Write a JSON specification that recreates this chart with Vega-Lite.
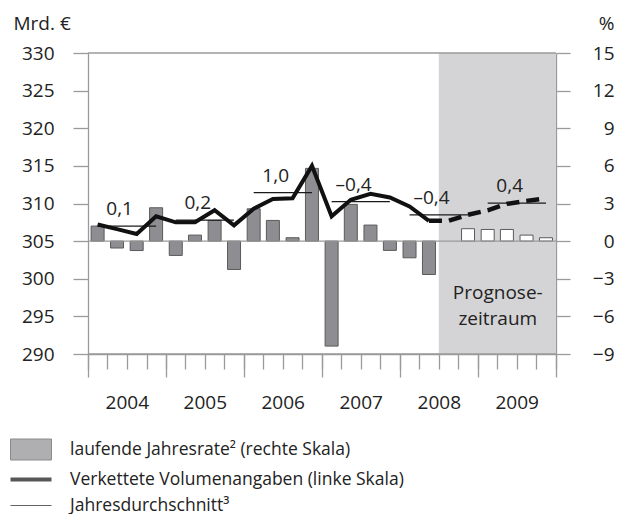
{
  "$schema": "https://vega.github.io/schema/vega-lite/v6.json",
  "width": 468,
  "height": 301,
  "autosize": "none",
  "padding": {"left": 88, "top": 53, "right": 61, "bottom": 160},
  "config": {
    "font": "Open Sans",
    "view": {"stroke": null},
    "axis": {"labelFont": "Open Sans", "titleFont": "Open Sans", "labelColor": "#222", "titleColor": "#222", "domainColor": "#9a9a9a", "tickColor": "#9a9a9a", "domainWidth": 1.3, "tickWidth": 1.3}
  },
  "datasets": {
    "quarters": [
      {"date": "2004-02-15", "value": 307.2, "rate": 1.2, "forecast": false},
      {"date": "2004-05-16", "value": 306.6, "rate": -0.55, "forecast": false},
      {"date": "2004-08-16", "value": 305.95, "rate": -0.75, "forecast": false},
      {"date": "2004-11-15", "value": 308.3, "rate": 2.66, "forecast": false},
      {"date": "2005-02-15", "value": 307.5, "rate": -1.14, "forecast": false},
      {"date": "2005-05-16", "value": 307.5, "rate": 0.48, "forecast": false},
      {"date": "2005-08-16", "value": 309.1, "rate": 1.65, "forecast": false},
      {"date": "2005-11-15", "value": 307.1, "rate": -2.26, "forecast": false},
      {"date": "2006-02-15", "value": 309.3, "rate": 2.58, "forecast": false},
      {"date": "2006-05-16", "value": 310.6, "rate": 1.65, "forecast": false},
      {"date": "2006-08-16", "value": 310.7, "rate": 0.27, "forecast": false},
      {"date": "2006-11-15", "value": 315.0, "rate": 5.8, "forecast": false},
      {"date": "2007-02-15", "value": 308.3, "rate": -8.37, "forecast": false},
      {"date": "2007-05-16", "value": 310.5, "rate": 2.93, "forecast": false},
      {"date": "2007-08-16", "value": 311.3, "rate": 1.28, "forecast": false},
      {"date": "2007-11-15", "value": 310.8, "rate": -0.74, "forecast": false},
      {"date": "2008-02-15", "value": 309.6, "rate": -1.33, "forecast": false},
      {"date": "2008-05-16", "value": 307.7, "rate": -2.66, "forecast": false},
      {"date": "2008-08-16", "value": 307.7, "rate": null, "forecast": true},
      {"date": "2008-11-15", "value": 308.5, "rate": 0.99, "forecast": true},
      {"date": "2009-02-15", "value": 309.1, "rate": 0.93, "forecast": true},
      {"date": "2009-05-16", "value": 309.95, "rate": 0.93, "forecast": true},
      {"date": "2009-08-16", "value": 310.35, "rate": 0.48, "forecast": true},
      {"date": "2009-11-15", "value": 310.7, "rate": 0.27, "forecast": true}
    ],
    "averages": [
      {"from": "2004-02-15", "to": "2004-11-15", "avg": 307.0, "label": "0,1"},
      {"from": "2005-02-15", "to": "2005-11-15", "avg": 307.8, "label": "0,2"},
      {"from": "2006-02-15", "to": "2006-11-15", "avg": 311.45, "label": "1,0"},
      {"from": "2007-02-15", "to": "2007-11-15", "avg": 310.25, "label": "–0,4"},
      {"from": "2008-02-15", "to": "2008-11-15", "avg": 308.5, "label": "–0,4"},
      {"from": "2009-02-15", "to": "2009-11-15", "avg": 310.05, "label": "0,4"}
    ],
    "period": [
      {"start": "2008-07-01", "end": "2010-01-01", "label": "Prognose-\nzeitraum"}
    ],
    "legend": [
      {"series": "laufende Jahresrate² (rechte Skala)"},
      {"series": "Verkettete Volumenangaben (linke Skala)"},
      {"series": "Jahresdurchschnitt³"}
    ]
  },
  "layer": [
    {
      "layer": [
        {
          "data": {"name": "period"},
          "mark": {"type": "rect", "color": "#d4d4d6"},
          "encoding": {
            "x": {"field": "start", "type": "temporal", "scale": {"type": "utc", "nice": false, "padding": 0, "domain": [{"year": 2004, "month": 1, "date": 1, "utc": true}, {"year": 2010, "month": 1, "date": 1, "utc": true}]}},
            "x2": {"field": "end"}
          }
        },
        {
          "data": {"name": "period"},
          "mark": {"type": "text", "dx": 59, "dy": 89, "fontSize": 19, "lineHeight": 26, "lineBreak": "\n", "align": "center", "baseline": "middle", "color": "#222"},
          "encoding": {
            "x": {"field": "start", "type": "temporal", "scale": {"type": "utc", "nice": false, "padding": 0, "domain": [{"year": 2004, "month": 1, "date": 1, "utc": true}, {"year": 2010, "month": 1, "date": 1, "utc": true}]}},
            "text": {"field": "label"}
          }
        },
        {
          "data": {"name": "quarters"},
          "mark": {"type": "bar", "width": 13, "stroke": "#5a5a5a", "strokeWidth": 1},
          "encoding": {
            "x": {"field": "date", "type": "temporal", "scale": {"type": "utc", "nice": false, "padding": 0, "domain": [{"year": 2004, "month": 1, "date": 1, "utc": true}, {"year": 2010, "month": 1, "date": 1, "utc": true}]},
              "axis": {"orient": "bottom", "title": null, "tickCount": {"interval": "month", "step": 3}, "labelExpr": "utcmonth(datum.value) == 6 ? utcFormat(datum.value, '%Y') : ''", "tickSize": 15, "labelPadding": 24, "labelFontSize": 19, "labelOverlap": false, "labelFlush": false, "labelBound": false, "grid": false}},
            "y": {"field": "rate", "type": "quantitative", "scale": {"domain": [-9, 15], "nice": false, "zero": false},
              "axis": {"orient": "right", "values": [-9, -6, -3, 0, 3, 6, 9, 12, 15], "tickSize": 14, "labelAlign": "right", "labelBaseline": "middle", "labelPadding": 44, "labelFontSize": 19, "labelOverlap": false, "grid": false, "title": "%", "titleAngle": 0, "titleX": 58, "titleY": -30, "titleAlign": "right", "titleBaseline": "middle", "titleFontSize": 19, "titleFontWeight": "normal"}},
            "color": {"condition": {"test": "datum.forecast", "value": "#ffffff"}, "value": "#8e8e92"}
          }
        }
      ]
    },
    {
      "layer": [
        {
          "data": {"name": "averages"},
          "mark": {"type": "rule", "color": "#1a1a1a", "strokeWidth": 1.2},
          "encoding": {
            "x": {"field": "from", "type": "temporal", "scale": {"type": "utc", "nice": false, "padding": 0, "domain": [{"year": 2004, "month": 1, "date": 1, "utc": true}, {"year": 2010, "month": 1, "date": 1, "utc": true}]},
              "axis": {"orient": "bottom", "title": null, "tickCount": {"interval": "year", "step": 1}, "tickSize": 23, "labels": false, "domain": false, "grid": false}},
            "x2": {"field": "to"},
            "y": {"field": "avg", "type": "quantitative", "scale": {"domain": [290, 330], "nice": false, "zero": false},
              "axis": {"orient": "left", "values": [290, 295, 300, 305, 310, 315, 320, 325, 330], "tickCount": 20, "tickSize": 15, "labelPadding": 19, "labelFontSize": 19, "labelBaseline": "middle", "labelOverlap": false, "title": "Mrd. €", "titleAngle": 0, "titleX": -75, "titleY": -30, "titleAlign": "left", "titleBaseline": "middle", "titleFontSize": 19, "titleFontWeight": "normal", "grid": false}}
          }
        },
        {
          "data": {"values": [{}]},
          "mark": {"type": "rule", "color": "#9a9a9a", "strokeWidth": 1.3},
          "encoding": {
            "y": {"datum": 305, "type": "quantitative", "scale": {"domain": [290, 330], "nice": false, "zero": false},
              "axis": {"orient": "left", "values": [290, 295, 300, 305, 310, 315, 320, 325, 330], "tickCount": 20, "tickSize": 15, "labelPadding": 19, "labelFontSize": 19, "labelBaseline": "middle", "labelOverlap": false, "title": "Mrd. €", "titleAngle": 0, "titleX": -75, "titleY": -30, "titleAlign": "left", "titleBaseline": "middle", "titleFontSize": 19, "titleFontWeight": "normal", "grid": false}}
          }
        },
        {
          "data": {"values": [{}]},
          "mark": {"type": "rule", "color": "#9a9a9a", "strokeWidth": 1.3},
          "encoding": {
            "y": {"datum": 330, "type": "quantitative", "scale": {"domain": [290, 330], "nice": false, "zero": false},
              "axis": {"orient": "left", "values": [290, 295, 300, 305, 310, 315, 320, 325, 330], "tickCount": 20, "tickSize": 15, "labelPadding": 19, "labelFontSize": 19, "labelBaseline": "middle", "labelOverlap": false, "title": "Mrd. €", "titleAngle": 0, "titleX": -75, "titleY": -30, "titleAlign": "left", "titleBaseline": "middle", "titleFontSize": 19, "titleFontWeight": "normal", "grid": false}}
          }
        },
        {
          "data": {"values": [{}]},
          "mark": {"type": "rule", "color": "#9a9a9a", "strokeWidth": 1.3},
          "encoding": {
            "y": {"datum": 290, "type": "quantitative", "scale": {"domain": [290, 330], "nice": false, "zero": false},
              "axis": {"orient": "left", "values": [290, 295, 300, 305, 310, 315, 320, 325, 330], "tickCount": 20, "tickSize": 15, "labelPadding": 19, "labelFontSize": 19, "labelBaseline": "middle", "labelOverlap": false, "title": "Mrd. €", "titleAngle": 0, "titleX": -75, "titleY": -30, "titleAlign": "left", "titleBaseline": "middle", "titleFontSize": 19, "titleFontWeight": "normal", "grid": false}}
          }
        },
        {
          "data": {"name": "quarters"},
          "transform": [{"filter": "time(datum.date) <= utc(2008, 4, 20)"}],
          "mark": {"type": "line", "color": "#111", "strokeWidth": 4, "strokeJoin": "miter", "strokeCap": "butt"},
          "encoding": {
            "x": {"field": "date", "type": "temporal", "scale": {"type": "utc", "nice": false, "padding": 0, "domain": [{"year": 2004, "month": 1, "date": 1, "utc": true}, {"year": 2010, "month": 1, "date": 1, "utc": true}]}},
            "y": {"field": "value", "type": "quantitative", "scale": {"domain": [290, 330], "nice": false, "zero": false},
              "axis": {"orient": "left", "values": [290, 295, 300, 305, 310, 315, 320, 325, 330], "tickCount": 20, "tickSize": 15, "labelPadding": 19, "labelFontSize": 19, "labelBaseline": "middle", "labelOverlap": false, "title": "Mrd. €", "titleAngle": 0, "titleX": -75, "titleY": -30, "titleAlign": "left", "titleBaseline": "middle", "titleFontSize": 19, "titleFontWeight": "normal", "grid": false}}
          }
        },
        {
          "data": {"name": "quarters"},
          "transform": [{"filter": "time(datum.date) >= utc(2008, 4, 1)"}],
          "mark": {"type": "line", "color": "#111", "strokeWidth": 4.5, "strokeDash": [13, 7], "strokeJoin": "miter", "strokeCap": "butt"},
          "encoding": {
            "x": {"field": "date", "type": "temporal", "scale": {"type": "utc", "nice": false, "padding": 0, "domain": [{"year": 2004, "month": 1, "date": 1, "utc": true}, {"year": 2010, "month": 1, "date": 1, "utc": true}]}},
            "y": {"field": "value", "type": "quantitative", "scale": {"domain": [290, 330], "nice": false, "zero": false},
              "axis": {"orient": "left", "values": [290, 295, 300, 305, 310, 315, 320, 325, 330], "tickCount": 20, "tickSize": 15, "labelPadding": 19, "labelFontSize": 19, "labelBaseline": "middle", "labelOverlap": false, "title": "Mrd. €", "titleAngle": 0, "titleX": -75, "titleY": -30, "titleAlign": "left", "titleBaseline": "middle", "titleFontSize": 19, "titleFontWeight": "normal", "grid": false}}
          }
        },
        {
          "data": {"name": "averages"},
          "mark": {"type": "text", "dx": 22, "dy": -17, "fontSize": 19, "align": "center", "baseline": "middle", "color": "#222"},
          "encoding": {
            "x": {"field": "from", "type": "temporal", "scale": {"type": "utc", "nice": false, "padding": 0, "domain": [{"year": 2004, "month": 1, "date": 1, "utc": true}, {"year": 2010, "month": 1, "date": 1, "utc": true}]}},
            "y": {"field": "avg", "type": "quantitative", "scale": {"domain": [290, 330], "nice": false, "zero": false},
              "axis": {"orient": "left", "values": [290, 295, 300, 305, 310, 315, 320, 325, 330], "tickCount": 20, "tickSize": 15, "labelPadding": 19, "labelFontSize": 19, "labelBaseline": "middle", "labelOverlap": false, "title": "Mrd. €", "titleAngle": 0, "titleX": -75, "titleY": -30, "titleAlign": "left", "titleBaseline": "middle", "titleFontSize": 19, "titleFontWeight": "normal", "grid": false}},
            "text": {"field": "label"}
          }
        },
        {
          "data": {"name": "legend"},
          "transform": [{"filter": "false"}],
          "mark": {"type": "point", "filled": true, "strokeWidth": 1},
          "encoding": {
            "shape": {"field": "series", "type": "nominal",
              "scale": {"domain": ["laufende Jahresrate² (rechte Skala)", "Verkettete Volumenangaben (linke Skala)", "Jahresdurchschnitt³"], "range": ["M-2.05,-1.05H2.05V1.05H-2.05Z", "M-2.05,-0.2H2.05V0.2H-2.05Z", "M-2.05,-0.06H2.05V0.06H-2.05Z"]},
              "legend": {"orient": "none", "legendX": -67.5, "legendY": 386, "title": null, "symbolSize": 400, "labelOffset": 28.5, "labelFontSize": 17.5, "labelFont": "Open Sans", "labelColor": "#222", "labelLimit": 500, "rowPadding": 7, "symbolStrokeWidth": 1, "symbolOpacity": 1}},
            "color": {"field": "series", "type": "nominal",
              "scale": {"domain": ["laufende Jahresrate² (rechte Skala)", "Verkettete Volumenangaben (linke Skala)", "Jahresdurchschnitt³"], "range": ["#8e8e92", "#111111", "#222222"]}},
            "stroke": {"field": "series", "type": "nominal",
              "scale": {"domain": ["laufende Jahresrate² (rechte Skala)", "Verkettete Volumenangaben (linke Skala)", "Jahresdurchschnitt³"], "range": ["#5a5a5a", "transparent", "transparent"]}}
          }
        }
      ]
    }
  ],
  "resolve": {"scale": {"y": "independent"}, "axis": {"x": "independent"}}
}
